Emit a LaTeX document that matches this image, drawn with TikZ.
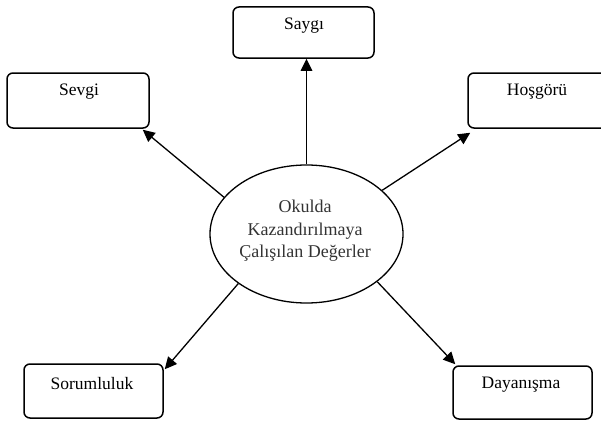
\documentclass[tikz,border=0pt]{standalone}
\usepackage{fontspec}
\setmainfont{Liberation Serif}
\usetikzlibrary{arrows.meta,shapes.geometric,calc}
\tikzset{
  valbox/.style={draw=black, line width=1.5pt, rounded corners=6pt, minimum width=141pt, minimum height=54pt, inner sep=0pt},
  boxtext/.style={font=\fontsize{17.5}{20}\selectfont, text=black, inner sep=0pt},
  center/.style={draw=black, line width=1.3pt, ellipse, minimum width=193pt, minimum height=138pt, inner sep=0pt},
  centertext/.style={font=\fontsize{18}{22.5}\selectfont, text=black!80, align=center, inner sep=0pt},
  conn/.style={line width=1.3pt, -{Triangle[length=12pt,width=11.5pt]}}
}
\begin{document}
\begin{tikzpicture}[x=1pt,y=-1pt]
\useasboundingbox (0,0) rectangle (601,420);
\clip (0,0) rectangle (601,420);
\node[valbox, minimum height=51pt] (saygi) at (303.5,32.5) {};
\node[valbox, minimum width=142pt, minimum height=55pt] (sevgi) at (78,100.5) {};
\node[valbox, minimum height=55pt] (hosgoru) at (538.5,100.5) {};
\node[valbox, minimum width=139pt] (sorum) at (93.5,391) {};
\node[valbox, minimum width=139pt, minimum height=53pt] (dayan) at (522.5,392.5) {};
\node[boxtext] (saygiT) at (304,26) {Saygı};
\node[boxtext] (sevgiT) at (79,92) {Sevgi};
\node[boxtext] (hosgoruT) at (537,92) {Hoşgörü};
\node[boxtext] (sorumT) at (92,384) {Sorumluluk};
\node[boxtext] (dayanT) at (521,385) {Dayanışma};
\node[center] (ell) at (306.5,234) {};
\node[centertext] (ellT) at (305,231) {Okulda\\Kazandırılmaya\\Çalışılan Değerler};
\draw[conn] (ell.north) -- (ell.north |- saygi.south);
\draw[conn] (ell.156) -- ($(sevgi.south east)+(-7,1)$);
\draw[conn] (ell.30) -- ($(hosgoru.south west)+(3,4)$);
\draw[conn] (ell.216) -- ($(sorum.north east)+(1,6)$);
\draw[conn] (ell.-34) -- ($(dayan.north west)+(3,-1)$);
\end{tikzpicture}
\end{document}
